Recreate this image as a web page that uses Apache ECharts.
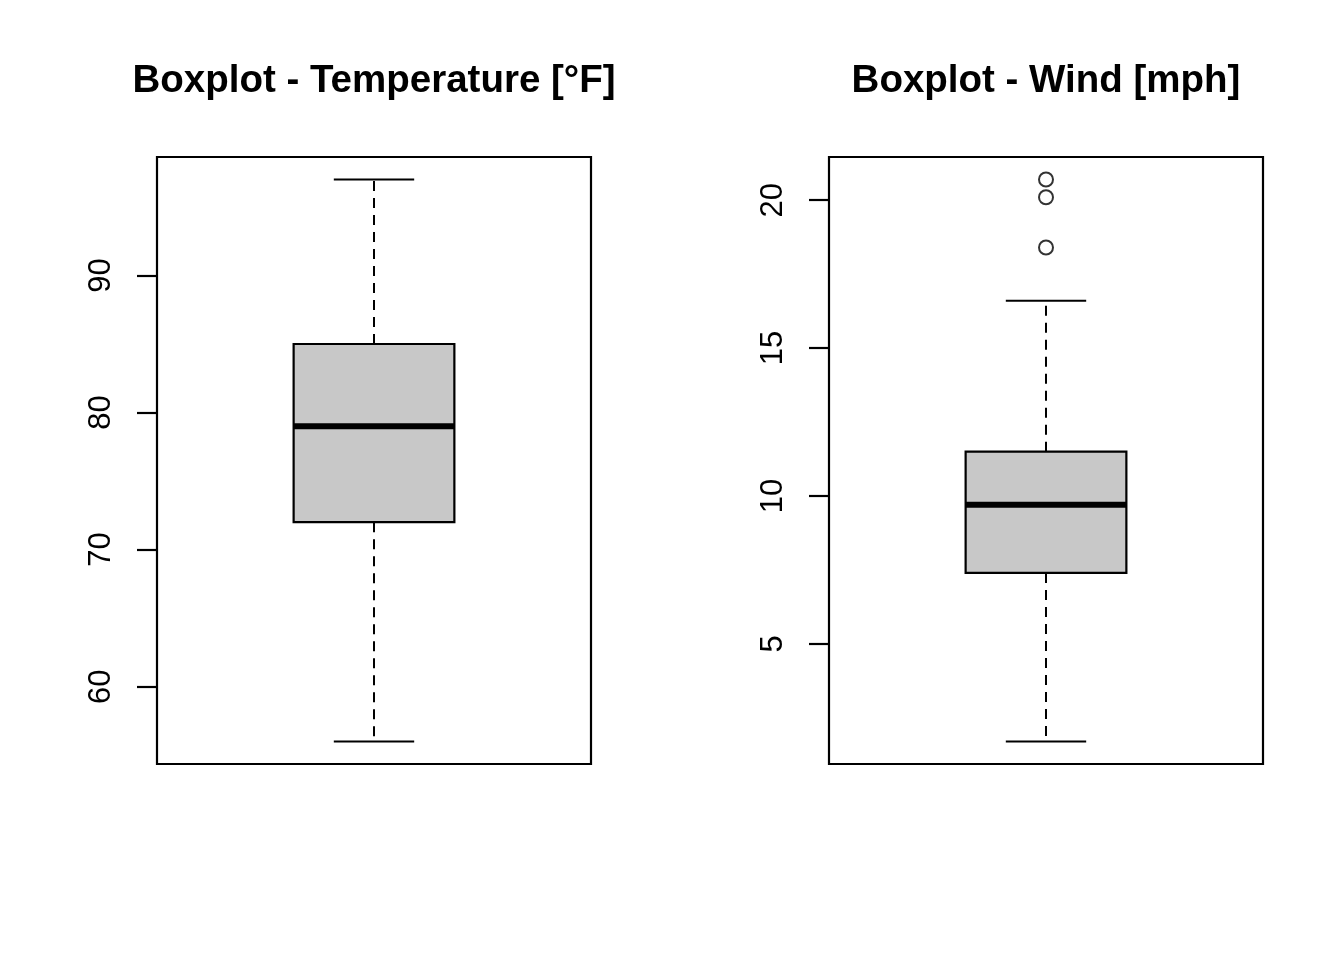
<!DOCTYPE html>
<html>
<head>
<meta charset="utf-8">
<script src="https://cdn.jsdelivr.net/npm/echarts@6/dist/echarts.min.js"></script>
<style>
  html, body { margin: 0; padding: 0; background: #fff; }
  #main { width: 1344px; height: 960px; }
</style>
</head>
<body>
<div id="main"></div>
<script>
// five-number summaries: lower whisker, Q1, median, Q3, upper whisker
const tempStats = [56, 72, 79, 85, 97];
const tempOutliers = [];
const windStats = [1.7, 7.4, 9.7, 11.5, 16.6];
const windOutliers = [18.4, 20.1, 20.7];

const titles = ['Boxplot - Temperature [°F]', 'Boxplot - Wind [mph]'];
const tempTicks = [60, 70, 80, 90];
const windTicks = [5, 10, 15, 20];

// R pads the data range by 4% on each side
const pad = (lo, hi) => [lo - (hi - lo) * 0.04, hi + (hi - lo) * 0.04];
const tempRange = pad(Math.min(tempStats[0], ...tempOutliers), Math.max(tempStats[4], ...tempOutliers));
const windRange = pad(Math.min(windStats[0], ...windOutliers), Math.max(windStats[4], ...windOutliers));

const font = 'Liberation Sans, Arial, sans-serif';

// draws one R-style box: dashed whiskers, staples, grey box, thick median
function renderBox(params, api) {
  const low = api.value(1), q1 = api.value(2), med = api.value(3), q3 = api.value(4), high = api.value(5);
  const line = (x1, y1, x2, y2, width, dash) => {
    const a = api.coord([x1, y1]);
    const b = api.coord([x2, y2]);
    return {
      type: 'line',
      shape: { x1: a[0], y1: a[1], x2: b[0], y2: b[1] },
      style: { stroke: '#000', lineWidth: width, lineDash: dash || null }
    };
  };
  const tl = api.coord([0.8, q3]);
  const br = api.coord([1.2, q1]);
  return {
    type: 'group',
    children: [
      line(1, q3, 1, high, 2, [10, 7]),
      line(1, q1, 1, low, 2, [10, 7]),
      line(0.9, high, 1.1, high, 2.2),
      line(0.9, low, 1.1, low, 2.2),
      {
        type: 'rect',
        shape: { x: tl[0], y: tl[1], width: br[0] - tl[0], height: br[1] - tl[1] },
        style: { fill: '#C8C8C8', stroke: '#000', lineWidth: 2.2 }
      },
      line(0.8, med, 1.2, med, 6)
    ]
  };
}

function yAxisFor(idx, range, ticks) {
  return {
    type: 'value', gridIndex: idx, min: range[0], max: range[1],
    axisLine: { show: false },
    splitLine: { show: false },
    axisTick: { show: true, inside: false, length: 20, customValues: ticks, lineStyle: { color: '#000', width: 2.2 } },
    axisLabel: {
      show: true, customValues: ticks, rotate: 90, margin: 40,
      fontSize: 31, fontFamily: font, color: '#000'
    }
  };
}

function xAxisFor(idx) {
  return { type: 'value', gridIndex: idx, min: 0.46, max: 1.54, show: false };
}

const chart = echarts.init(document.getElementById('main'));
chart.setOption({
  animation: false,
  backgroundColor: '#fff',
  title: [
    { text: titles[0], left: 369, top: 57, textAlign: 'center',
      textStyle: { fontSize: 38.5, fontWeight: 'bold', fontFamily: font, color: '#000' } },
    { text: titles[1], left: 1041, top: 57, textAlign: 'center',
      textStyle: { fontSize: 38.5, fontWeight: 'bold', fontFamily: font, color: '#000' } }
  ],
  grid: [
    { left: 157, top: 157, width: 434, height: 607, show: true, borderColor: '#000', borderWidth: 2.2, backgroundColor: 'transparent' },
    { left: 829, top: 157, width: 434, height: 607, show: true, borderColor: '#000', borderWidth: 2.2, backgroundColor: 'transparent' }
  ],
  xAxis: [xAxisFor(0), xAxisFor(1)],
  yAxis: [yAxisFor(0, tempRange, tempTicks), yAxisFor(1, windRange, windTicks)],
  series: [
    { type: 'custom', xAxisIndex: 0, yAxisIndex: 0, renderItem: renderBox,
      data: [[1].concat(tempStats)] },
    { type: 'scatter', xAxisIndex: 0, yAxisIndex: 0, symbol: 'circle', symbolSize: 14,
      itemStyle: { color: 'transparent', borderColor: '#000', borderWidth: 2 },
      data: tempOutliers.map(v => [1, v]) },
    { type: 'custom', xAxisIndex: 1, yAxisIndex: 1, renderItem: renderBox,
      data: [[1].concat(windStats)] },
    { type: 'scatter', xAxisIndex: 1, yAxisIndex: 1, symbol: 'circle', symbolSize: 14,
      itemStyle: { color: 'transparent', borderColor: '#000', borderWidth: 2 },
      data: windOutliers.map(v => [1, v]) }
  ]
});
</script>
</body>
</html>
